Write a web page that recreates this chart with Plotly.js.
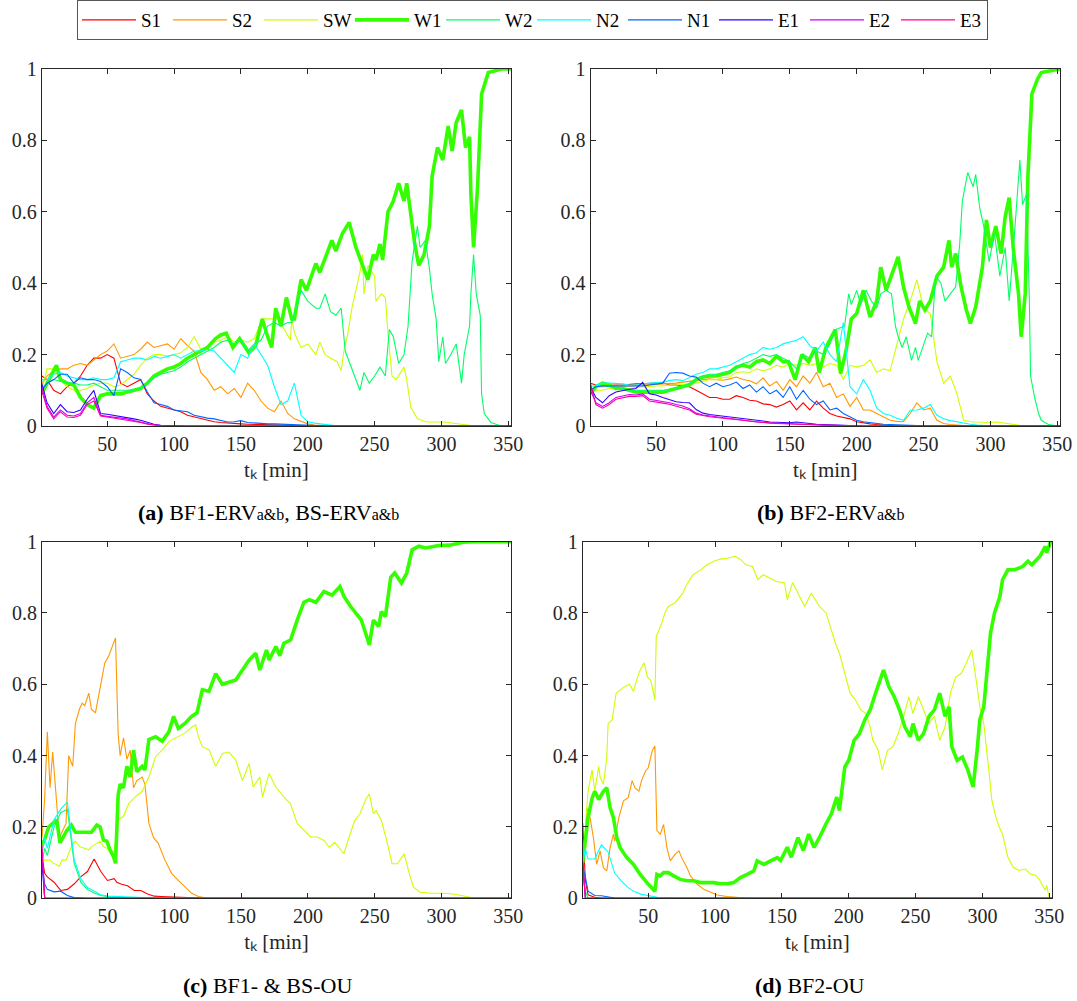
<!DOCTYPE html>
<html>
<head>
<meta charset="utf-8">
<script src="https://cdn.plot.ly/plotly-3.0.1.min.js"></script>
<style>body{margin:0;padding:0;background:#fff}#chart{width:1077px;height:1001px}</style>
</head>
<body>
<div id="chart"></div>
<script>
// ---- categories / tick labels ----
const seriesNames = ['S1','S2','SW','W1','W2','N2','N1','E1','E2','E3'];
const xTickVals = [50,100,150,200,250,300,350];
const yTickVals = [0,0.2,0.4,0.6,0.8,1];
const yTickText = ['0','0.2','0.4','0.6','0.8','1'];
const xTitle = 't\u2096 [min]';
const captions = ['<b>(a)</b> BF1-ERV<span style="font-size:16px">a&amp;b</span>, BS-ERV<span style="font-size:16px">a&amp;b</span>',
                  '<b>(b)</b> BF2-ERV<span style="font-size:16px">a&amp;b</span>',
                  '<b>(c)</b> BF1- &amp; BS-OU',
                  '<b>(d)</b> BF2-OU'];

// ---- common time grids [min] ----
const Ta = [1,5,10,15,20,25,30,35,40,45,50,55,60,65,70,75,80,85,90,95,100,105,110,115,120,125,130,135,140,145,150,155,160,165,170,175,180,185,190,195,200,205,210,215,220,225,230,235,240,245,250,255,260,265,270,275,280,285,290,295,300,305,310,315,320,325,330,335,340,345,350,352];
const Tc = [1,3,5,10,15,20,25,30,35,40,45,50,55,57,60,65,70,75,80,85,90,95,100,105,110,115,120,125,130,135,140,145,150,155,160,165,170,175,180,185,190,195,200,205,210,215,220,225,230,235,240,245,250,255,260,265,270,275,280,285,290,295,300,305,310,315,320,325,330,335,340,345,350,352];

// ---- panel (a) BF1-ERVa&b, BS-ERVa&b ----
const a_S1 = [.14,.13,.10,.09,.11,.12,.14,.17,.19,.19, .20,.19,.12,.11,.12,.13,.09,.07,.055,.05, .045,.04,.03,.025,.02,.015,.012,.01,.008,.007, .006,.005,.005,.004,.003,.003,.003,.002,.002,.002, .001,0,0,0,0,0,0,0,0,0, 0,0,0,0,0,0,0,0,0,0, 0,0,0,0,0,0,0,0,0,0, 0,0];
const a_S2 = [.12,.14,.155,.16,.16,.17,.175,.17,.185,.2, .21,.23,.19,.195,.2,.215,.235,.22,.225,.23, .215,.245,.225,.21,.15,.13,.10,.11,.09,.105, .08,.12,.10,.07,.05,.04,.07,.035,.02,.012, .006,.003,.002,.001,0,0,0,0,0,0, 0,0,0,0,0,0,0,0,0,0, 0,0,0,0,0,0,0,0,0,0, 0,0];
const a_SW_t = [1,5,10,15,20,25,30,35,40,45,50,55,60,65,70,75,80,85,90,95,100,105,110,115,120,125,130,135,140,145,150,155,160, 166,173,178,187,188,190,195,200,206,209,213,217,222,225,227,230,233,239,241,242,245,250,251,255,258,260,263,266,272,274,277,282,289,302,315,325,352];
const a_SW = [.10,.16,.16,.13,.11,.10,.10,.105,.115,.12, .12,.11,.115,.13,.145,.17,.19,.2,.2,.195, .2,.205,.22,.25,.215,.22,.235,.24,.25,.235, .24,.235,.245, .3,.3,.3,.24,.3, .26,.22,.23,.2,.235, .2,.19,.18,.155,.21, .26,.33,.43,.48,.37, .45,.42,.35,.37,.36, .26,.14,.13,.165,.13, .053,.02,.011,.011,.005, 0,0];
const a_W1_t = [1,5,10,12,15,20,25,30,35,40,45,50,55,60,65,70,75,80,85,90,95,100,105,110,115,120,125,131,135,139,144,149,156,161,166,170,173,176,180,184,188,190,195,199,206,209,218,221,226,231,236,240,245,249,251,254,256,260,264,268,272,274,278,280,283,287,291,293,297,301,305,308,311,315,318,321,322,324,327,330,335,345,352];
const a_W1 = [.09,.12,.16,.17,.13, .12,.115,.08,.06,.05, .085,.09,.09,.09,.095, .10,.105,.12,.14,.15, .16,.165,.175,.19,.2, .21,.22,.245,.255,.26, .22,.245,.205,.225,.3, .25,.22,.33,.28,.36, .3,.3,.41,.38,.455, .43,.52,.49,.54,.57, .5,.46,.41,.48,.465, .51,.465,.6,.63,.68, .63,.68,.56,.51,.45, .48,.56,.7,.78,.745, .84,.77,.85,.885,.78, .81,.65,.5,.67,.93, .99,1,1];
const a_W2_t = [1,5,10,15,20,25,30,35,40,45,50,55,60,65,70,75,80,85,90,95,100,105,110,115,120,125,130,135,140,145,150,155,160,165,170,175,180,185, 188,193,195,200,206,209,213,217,221,225,227,228,231,235,239,242,246,250,254,258,261,264,268,272,275,278,282,284,288,291,293,296,298,301,303,307,311,315,317,321,322,324,326,329,330,332,337,343,350,352];
const a_W2 = [.1,.12,.13,.125,.12,.12,.115,.115,.12,.11, .1,.1,.1,.1,.1,.105,.12,.135,.145,.15, .155,.165,.18,.19,.2,.21,.22,.235,.24,.23, .24,.21,.23,.24,.28,.29,.28,.29, .29,.35,.38,.35,.33, .33,.37,.32,.31,.33, .26,.21,.18,.14,.1, .15,.12,.14,.165,.14, .27,.25,.175,.2,.28, .46,.56,.5,.52,.44, .37,.3,.18,.25,.175, .2,.23,.12,.2,.28, .37,.48,.37,.31,.09, .035,.01,.002,0,0];
const a_N2 = [.13,.13,.145,.15,.14,.135,.13,.13,.135,.13, .13,.135,.18,.185,.19,.19,.185,.195,.19,.195, .2,.19,.2,.21,.21,.215,.21,.19,.17,.15, .2,.19,.23,.2,.17,.11,.06,.07,.12,.03, .012,.008,.005,.003,.001,0,0,0,0,0, 0,0,0,0,0,0,0,0,0,0, 0,0,0,0,0,0,0,0,0,0, 0,0];
const a_N1 = [.1,.12,.13,.145,.145,.12,.135,.13,.13,.125, .11,.085,.16,.15,.135,.13,.095,.065,.06,.055, .045,.042,.04,.03,.025,.022,.02,.015,.011,.012, .015,.01,.008,.007,.006,.006,.005,.004,.003,.002, .001,0,0,0,0,0,0,0,0,0, 0,0,0,0,0,0,0,0,0,0, 0,0,0,0,0,0,0,0,0,0, 0,0];
const a_E1 = [.12,.065,.035,.06,.04,.038,.045,.075,.1,.035, .033,.03,.028,.025,.02,.016,.01,.005,.002,.001, 0,0,0,0,0,0,0,0,0,0, 0,0,0,0,0,0,0,0,0,0, 0,0,0,0,0,0,0,0,0,0, 0,0,0,0,0,0,0,0,0,0, 0,0,0,0,0,0,0,0,0,0, 0,0];
const a_E2 = [.11,.055,.025,.045,.03,.028,.035,.065,.08,.03, .027,.025,.022,.02,.015,.012,.007,.003,.001,0, 0,0,0,0,0,0,0,0,0,0, 0,0,0,0,0,0,0,0,0,0, 0,0,0,0,0,0,0,0,0,0, 0,0,0,0,0,0,0,0,0,0, 0,0,0,0,0,0,0,0,0,0, 0,0];
const a_E3 = [.1,.05,.02,.04,.025,.024,.03,.06,.07,.028, .025,.022,.02,.018,.013,.01,.005,.002,.001,0, 0,0,0,0,0,0,0,0,0,0, 0,0,0,0,0,0,0,0,0,0, 0,0,0,0,0,0,0,0,0,0, 0,0,0,0,0,0,0,0,0,0, 0,0,0,0,0,0,0,0,0,0, 0,0];

// ---- panel (b) BF2-ERVa&b ----
const b_S1 = [.12,.115,.113,.115,.115,.115,.117,.118,.118,.12, .12,.122,.115,.115,.112,.11,.1,.09,.08,.08, .075,.075,.085,.08,.072,.07,.062,.06,.053,.06, .07,.045,.065,.045,.07,.05,.035,.028,.025,.02, .012,.008,.006,.004,.002,.001,0,0,0,0, 0,0,0,0,0,0,0,0,0,0, 0,0,0,0,0,0,0,0,0,0, 0,0];
const b_S2 = [.1,.11,.11,.11,.11,.112,.112,.113,.114,.115, .116,.118,.12,.12,.123,.125,.127,.13,.132,.13, .128,.132,.137,.13,.127,.118,.135,.112,.125,.1, .13,.11,.14,.12,.15,.11,.12,.08,.09,.055, .08,.045,.045,.035,.025,.016,.013,.012,.035,.065, .045,.05,.016,.007,.004,.002,.001,0,0,0, 0,0,0,0,0,0,0,0,0,0, 0,0];
const b_SW = [.1,.1,.1,.105,.105,.105,.105,.108,.11,.11, .112,.112,.115,.115,.117,.12,.12,.125,.13,.13, .135,.137,.15,.152,.15,.16,.155,.16,.17,.165, .175,.17,.175,.17,.175,.165,.175,.17,.13,.17, .165,.17,.185,.15,.16,.155,.23,.3,.35,.41, .33,.315,.18,.12,.14,.09,.016,.012,.011,.01, .01,.011,.008,.005,.002,0,0,0,0,0, 0,0];
const b_W1_t = [1,5,10,15,20,25,30,35,40,45,50,55,60,65,70,75,80,85,90,95,100,105,110,115,120,125,130,135,140,145, 149,154,159,164,169,172,177,184,188,192,196,200,205,210,215,218,222,226,231,235,239,244,247,251,255,260,265,269,271,274,278,282,285,289,294,297,300,304,308,311,314,317,321,323,326,328,331,335,338,345,350,352];
const b_W1 = [.09,.11,.12,.115,.105,.105,.1,.095,.095,.095, .095,.095,.1,.105,.11,.115,.13,.137,.14,.14, .145,.15,.165,.17,.165,.18,.185,.175,.195,.18, .18,.13,.2,.18,.22, .15,.22,.27,.147,.21, .3,.315,.38,.305,.35, .445,.38,.42,.474,.39, .334,.287,.35,.325,.35, .42,.445,.52,.445,.483, .39,.325,.287,.334,.445, .577,.5,.56,.483,.586, .64,.5,.37,.25,.37, .7,.93,.97,.99,.995, 1,1];
const b_W2_t = [1,5,10,15,20,25,30,35,40,45,50,55,60,65,70,75,80,85,90,95,100,105,110,115,120,125,130,135,140,145,150,155,160,165,170,175,180, 184,191,194,196,200,203,207,211,215,218,222,226,229,231,234,237,241,244,246,250,253,256,259,263,266,270,274,277,279,283,287,289,292,295,299,303,307,311,314,318,322,324,327,329,330,333,336,338,343,350,352];
const b_W2 = [.1,.11,.115,.11,.11,.105,.1,.1,.1,.1, .1,.1,.1,.105,.11,.12,.13,.14,.145,.145, .15,.155,.165,.175,.18,.19,.2,.195,.2,.19, .18,.16,.2,.19,.21,.2,.23, .27,.28,.37,.34,.38, .34,.38,.35,.33,.37, .38,.37,.28,.25,.22, .25,.184,.22,.184,.23, .26,.25,.42,.4,.35, .37,.39,.51,.63,.71, .67,.705,.61,.56,.46, .54,.42,.5,.35,.54, .745,.62,.65,.37,.14, .08,.035,.016,.005,0, 0];
const b_N2 = [.11,.115,.12,.12,.12,.118,.115,.115,.118,.12, .12,.123,.127,.13,.127,.135,.145,.15,.16,.16, .165,.17,.18,.19,.2,.205,.22,.215,.22,.23, .235,.24,.25,.225,.21,.235,.2,.18,.29,.11, .09,.13,.1,.05,.035,.03,.022,.016,.044,.045, .05,.06,.03,.02,.015,.011,.007,.005,.003,.001, 0,0,0,0,0,0,0,0,0,0, 0,0];
const b_N1 = [.1,.11,.112,.112,.112,.11,.11,.112,.112,.115, .117,.12,.148,.15,.148,.14,.137,.12,.11,.12, .11,.115,.123,.105,.115,.095,.11,.09,.1,.08, .11,.075,.1,.075,.06,.07,.045,.05,.035,.025, .016,.012,.009,.007,.005,.004,.003,.002,.001,0, 0,0,0,0,0,0,0,0,0,0, 0,0,0,0,0,0,0,0,0,0, 0,0];
const b_E1 = [.11,.08,.065,.085,.095,.1,.103,.105,.122,.09, .087,.08,.073,.068,.066,.065,.046,.036,.032,.03, .028,.025,.023,.02,.018,.016,.014,.011,.01,.008, .009,.011,.008,.007,.005,.004,.003,.003,.002,.002, .001,0,0,0,0,0,0,0,0,0, 0,0,0,0,0,0,0,0,0,0, 0,0,0,0,0,0,0,0,0,0, 0,0];
const b_E2 = [.1,.065,.055,.065,.08,.085,.088,.087,.09,.075, .072,.068,.065,.06,.056,.048,.036,.031,.028,.026, .024,.021,.019,.016,.013,.011,.01,.009,.008,.007, .006,.005,.005,.004,.004,.003,.002,.002,.001,0, 0,0,0,0,0,0,0,0,0,0, 0,0,0,0,0,0,0,0,0,0, 0,0,0,0,0,0,0,0,0,0, 0,0];
const b_E3 = [.12,.06,.05,.06,.075,.08,.083,.083,.085,.07, .068,.064,.061,.056,.052,.045,.033,.029,.026,.024, .022,.019,.017,.014,.012,.01,.009,.008,.007,.006, .005,.004,.004,.003,.003,.002,.002,.001,0,0, 0,0,0,0,0,0,0,0,0,0, 0,0,0,0,0,0,0,0,0,0, 0,0,0,0,0,0,0,0,0,0, 0,0];

// ---- panel (c) BF1- & BS-OU ----
const c_S1 = [.12,.07,.06,.045,.022,.025,.04,.06,.075,.11, .075,.05,.055,.045,.04,.035,.022,.022,.012,.006, .005,.004,.003,.002,.001,0,0,0,0,0, 0,0,0,0,0,0,0,0,0,0, 0,0,0,0,0,0,0,0,0,0, 0,0,0,0,0,0,0,0,0,0, 0,0,0,0,0,0,0,0,0,0, 0,0,0,0];
const c_S2_t = [1,3,5,7,9,12,14,16.5,19,21,24,26,29,31,33,36,38,41,43,46,48,51,53,56,58,59.5,62,64.5,67,69.5,72,76,78,81,84.5,88,93,98,103,108,113,118,125,352];
const c_S2 = [.17,.28,.467,.31,.41, .25,.17,.19,.21,.4, .37,.49,.53,.547,.54, .575,.53,.52,.56,.62, .66,.68,.7,.73,.46, .4,.45,.39,.415,.31, .33,.34,.32,.21,.17, .154,.107,.07,.05,.033, .014,.005,0,0];
const c_SW_t = [1,3,7,9,14,16,19,21,24,26,29,36,38,42,44.5,47,52,55,58,62,66,71,76,81,86,91,96,101,108,113,116,118,121,126,131,136,141,146,151,156,159,164,166,171,176,182,187,192,197,202,207,212,216,220,225,227,230,235,239,243,246,249,251,255,259,263,267,272,276,279,284,293,301,309,316,324,330,352];
const c_SW = [.1,.107,.107,.1,.09, .107,.107,.126,.154,.16, .145,.136,.145,.154,.16, .145,.136,.13,.22,.23, .266,.285,.3,.34,.397, .416,.44,.45,.463,.48, .486,.453,.425,.416,.37, .406,.41,.387,.33,.378, .312,.34,.284,.35,.312, .284,.265,.21,.19,.172, .172,.162,.143,.157,.134, .125,.162,.218,.237,.275, .293,.237,.246,.218,.162, .097,.097,.125,.068,.031, .017,.014,.014,.012,.007, .001,0,0];
const c_W1_t = [1,3,6,9,12,14.5,17,19.5,23,26,31,38,42,44.5,47,49.5,52,54.5,56,58,59.5,62,64.5,67,69.5,72,76,78,81,86,91,96,99.5,103,108,113,117,121,126,131,136,141,146,151,156,161,164,169,171,176,179,182,187,192,197,201,206,212,218,224,227,232,236,240,244,246,249,253,255,258,262,265,270,274,278,283,288,298,306,316,325,352];
const c_W1 = [.15,.165,.2,.21,.22, .155,.173,.19,.205,.185, .185,.185,.205,.2,.163, .16,.135,.117,.098,.29, .32,.31,.37,.34,.415, .355,.37,.36,.445,.453, .44,.467,.51,.476,.49, .51,.52,.585,.58,.63, .6,.607,.612,.64,.668, .687,.64,.696,.668,.706, .68,.715,.724,.78,.83, .837,.83,.86,.85,.874, .846,.818,.8,.78,.734, .71,.78,.762,.804,.79, .9,.912,.884,.912,.977, .987,.982,.989,.99,.998, 1,1];
const c_W2 = [.1,.14,.12,.2,.24,.25,.1,.045,.025,.015, .008,.004,.002,.002,.001,0,0,0,0,0, 0,0,0,0,0,0,0,0,0,0, 0,0,0,0,0,0,0,0,0,0, 0,0,0,0,0,0,0,0,0,0, 0,0,0,0,0,0,0,0,0,0, 0,0,0,0,0,0,0,0,0,0, 0,0,0,0];
const c_N2 = [.12,.17,.14,.22,.25,.27,.11,.055,.03,.02, .01,.006,.005,.005,.005,.005,.004,.002,.001,0, 0,0,0,0,0,0,0,0,0,0, 0,0,0,0,0,0,0,0,0,0, 0,0,0,0,0,0,0,0,0,0, 0,0,0,0,0,0,0,0,0,0, 0,0,0,0,0,0,0,0,0,0, 0,0,0,0];
const c_N1 = [.1,.04,.025,.018,.02,.008,.002,0,0,0, 0,0,0,0,0,0,0,0,0,0, 0,0,0,0,0,0,0,0,0,0, 0,0,0,0,0,0,0,0,0,0, 0,0,0,0,0,0,0,0,0,0, 0,0,0,0,0,0,0,0,0,0, 0,0,0,0,0,0,0,0,0,0, 0,0,0,0];
const c_E1 = [.1,0,0,0,0,0,0,0,0,0, 0,0,0,0,0,0,0,0,0,0, 0,0,0,0,0,0,0,0,0,0, 0,0,0,0,0,0,0,0,0,0, 0,0,0,0,0,0,0,0,0,0, 0,0,0,0,0,0,0,0,0,0, 0,0,0,0,0,0,0,0,0,0, 0,0,0,0];
const c_E2 = [.13,0,0,0,0,0,0,0,0,0, 0,0,0,0,0,0,0,0,0,0, 0,0,0,0,0,0,0,0,0,0, 0,0,0,0,0,0,0,0,0,0, 0,0,0,0,0,0,0,0,0,0, 0,0,0,0,0,0,0,0,0,0, 0,0,0,0,0,0,0,0,0,0, 0,0,0,0];
const c_E3 = [.15,0,0,0,0,0,0,0,0,0, 0,0,0,0,0,0,0,0,0,0, 0,0,0,0,0,0,0,0,0,0, 0,0,0,0,0,0,0,0,0,0, 0,0,0,0,0,0,0,0,0,0, 0,0,0,0,0,0,0,0,0,0, 0,0,0,0,0,0,0,0,0,0, 0,0,0,0];

// ---- panel (d) BF2-OU ----
const d_S1 = [.21,.05,.01,.003,0,0,0,0,0,0, 0,0,0,0,0,0,0,0,0,0, 0,0,0,0,0,0,0,0,0,0, 0,0,0,0,0,0,0,0,0,0, 0,0,0,0,0,0,0,0,0,0, 0,0,0,0,0,0,0,0,0,0, 0,0,0,0,0,0,0,0,0,0, 0,0,0,0];
const d_S2_t = [1,3,4,6.5,9,11.5,14,16.5,19,21.5,24,25,28,31.5,35,38,40,43,45,48,50,53,55,56.5,59,61.5,64,66.5,70,73,75,79,81.5,86.5,91.5,96.5,101.5,109,116.5,125,352];
const d_S2 = [.1,.133,.254,.226,.17, .095,.133,.086,.077,.142, .18,.16,.226,.273,.282, .33,.31,.3,.33,.357, .366,.413,.427,.19,.18, .207,.142,.105,.123,.133, .114,.086,.063,.04,.025, .016,.009,.005,.002,0, 0];
const d_SW_t = [1,3,5,8,10,13,14,16.5,19,20,23,26,31,36,39,42,44,47,49.5,52,55,56,60,62.5,65,70,76,78,83.5,89,94,99,104,110,115,119,123,128,132,136,141,146,152,154,158,162,167,172,178,183,186,190,193,197,201,205,209,213,216,218,222,225,229,233,237,241,245,248,252,256,260,264,268,272,276,280,284,288,292,296,298,301,303,305,307,310,312.5,315,319,323,327,332,336,340,343,347,348,350,352];
const d_SW = [.1,.21,.3,.36,.3, .37,.34,.32,.394,.49, .5,.575,.59,.6,.58, .62,.64,.66,.62,.61, .556,.734,.77,.8,.818, .828,.856,.874,.907,.92, .935,.945,.951,.954,.959, .95,.935,.93,.893,.907, .898,.888,.884,.837,.885, .856,.818,.856,.818,.8, .762,.715,.687,.63,.575, .556,.528,.518,.48,.443, .415,.36,.415,.425,.462, .51,.565,.518,.565,.528, .49,.51,.443,.48,.575, .62,.63,.66,.696,.593, .537,.49,.425,.35,.275, .228,.2,.18,.115,.087, .078,.082,.068,.064,.05, .022,.036,0,0];
const d_W1_t = [1,3,5,8,10,13,16.5,19,21.5,24,26.5,29,34,39,44,49,53.5,55,56.5,59,61.5,65,69,74,79,84,89,94,99,104,109,114,119,124,129,131.5,136.5,141.5,146.5,149,154,157,162,166,170,174,178,183,187,191,193,197,200,204,208,212,216,220,224,226,230,234,238,242,246,248,252,256,260,264,268,272,275,277,281,285,289,293,296,298,301,303,306,309,313,315,319,324,330,334,337,343,347,348,351,352];
const d_W1 = [.1,.17,.226,.28,.3, .277,.3,.31,.254,.226, .17,.142,.114,.095,.067, .044,.025,.02,.067,.063, .072,.072,.063,.053,.049, .049,.044,.044,.044,.041, .041,.044,.058,.067,.077, .105,.095,.105,.114,.106, .143,.115,.17,.134,.18, .143,.17,.209,.237,.284, .246,.368,.387,.443,.462, .5,.528,.575,.62,.64, .593,.565,.528,.48,.453, .49,.443,.462,.51,.528, .575,.51,.537,.425,.387, .396,.36,.312,.415,.5, .537,.612,.743,.8,.846, .893,.921,.921,.93,.945, .935,.959,.987,.968,1, 1];
const d_W2 = [.1,.02,0,0,0,0,0,0,0,0, 0,0,0,0,0,0,0,0,0,0, 0,0,0,0,0,0,0,0,0,0, 0,0,0,0,0,0,0,0,0,0, 0,0,0,0,0,0,0,0,0,0, 0,0,0,0,0,0,0,0,0,0, 0,0,0,0,0,0,0,0,0,0, 0,0,0,0];
const d_N2 = [.1,.14,.11,.11,.15,.13,.07,.048,.03,.018, .011,.007,.004,.003,.002,.001,0,0,0,0, 0,0,0,0,0,0,0,0,0,0, 0,0,0,0,0,0,0,0,0,0, 0,0,0,0,0,0,0,0,0,0, 0,0,0,0,0,0,0,0,0,0, 0,0,0,0,0,0,0,0,0,0, 0,0,0,0];
const d_N1 = [.09,.06,.02,.008,.007,.003,.001,0,0,0, 0,0,0,0,0,0,0,0,0,0, 0,0,0,0,0,0,0,0,0,0, 0,0,0,0,0,0,0,0,0,0, 0,0,0,0,0,0,0,0,0,0, 0,0,0,0,0,0,0,0,0,0, 0,0,0,0,0,0,0,0,0,0, 0,0,0,0];
const d_E1 = [.1,0,0,0,0,0,0,0,0,0, 0,0,0,0,0,0,0,0,0,0, 0,0,0,0,0,0,0,0,0,0, 0,0,0,0,0,0,0,0,0,0, 0,0,0,0,0,0,0,0,0,0, 0,0,0,0,0,0,0,0,0,0, 0,0,0,0,0,0,0,0,0,0, 0,0,0,0];
const d_E2 = [.1,0,0,0,0,0,0,0,0,0, 0,0,0,0,0,0,0,0,0,0, 0,0,0,0,0,0,0,0,0,0, 0,0,0,0,0,0,0,0,0,0, 0,0,0,0,0,0,0,0,0,0, 0,0,0,0,0,0,0,0,0,0, 0,0,0,0,0,0,0,0,0,0, 0,0,0,0];
const d_E3 = [.1,0,0,0,0,0,0,0,0,0, 0,0,0,0,0,0,0,0,0,0, 0,0,0,0,0,0,0,0,0,0, 0,0,0,0,0,0,0,0,0,0, 0,0,0,0,0,0,0,0,0,0, 0,0,0,0,0,0,0,0,0,0, 0,0,0,0,0,0,0,0,0,0, 0,0,0,0];

// ---- styling ----
const colors = ['#ff0000','#ff9900','#ccff00','#33ff00','#00ff66','#00ffff','#0066ff','#3300ff','#cc00ff','#ff0099'];
const widths = [1.1,1.1,1.1,3.6,1.1,1.1,1.1,1.1,1.1,1.1];
const FONT = "'Liberation Serif', 'Times New Roman', Times, serif";
const INK = '#262626';

// series with their own time base
const S = (t, v) => ({t: t, v: v});
const panels = [
  {T: Ta, data: [a_S1,a_S2,S(a_SW_t,a_SW),S(a_W1_t,a_W1),S(a_W2_t,a_W2),a_N2,a_N1,a_E1,a_E2,a_E3], xa:'x',  ya:'y',  xd:[41.7,511],  yd:[69,426]},
  {T: Ta, data: [b_S1,b_S2,b_SW,S(b_W1_t,b_W1),S(b_W2_t,b_W2),b_N2,b_N1,b_E1,b_E2,b_E3], xa:'x2', ya:'y2', xd:[590.5,1060], yd:[69,426]},
  {T: Tc, data: [c_S1,S(c_S2_t,c_S2),S(c_SW_t,c_SW),S(c_W1_t,c_W1),c_W2,c_N2,c_N1,c_E1,c_E2,c_E3], xa:'x3', ya:'y3', xd:[42,511],    yd:[541.6,898.3]},
  {T: Tc, data: [d_S1,S(d_S2_t,d_S2),S(d_SW_t,d_SW),S(d_W1_t,d_W1),d_W2,d_N2,d_N1,d_E1,d_E2,d_E3], xa:'x4', ya:'y4', xd:[582.7,1052], yd:[541.6,898.3]}
];
const W = 1077, H = 1001;
const traces = [];
panels.forEach((p, pi) => {
  p.data.forEach((entry, si) => {
    const isArr = Array.isArray(entry);
    traces.push({
      type: 'scatter', mode: 'lines', x: isArr ? p.T : entry.t, y: isArr ? entry : entry.v,
      name: seriesNames[si], legendgroup: seriesNames[si], showlegend: pi === 0,
      xaxis: p.xa, yaxis: p.ya,
      line: {color: colors[si], width: widths[si]}, hoverinfo: 'x+y+name'
    });
  });
});

const layout = {
  width: W, height: H, margin: {l:0, r:0, t:0, b:0},
  paper_bgcolor: '#fff', plot_bgcolor: '#fff',
  font: {family: FONT, size: 20, color: INK},
  showlegend: true,
  legend: {orientation: 'h', x: 77/W, xanchor: 'left', y: 1, yanchor: 'top',
           bordercolor: '#555', borderwidth: 1, bgcolor: '#fff',
           itemwidth: 54, entrywidth: 22, entrywidthmode: 'pixels',
           font: {family: FONT, size: 19, color: '#000'}, tracegroupgap: 0},
  annotations: []
};
const captionPos = [[268,512],[830,512],[267,985],[810,985]];
panels.forEach((p, pi) => {
  const sx = pi === 0 ? '' : String(pi + 1);
  layout['xaxis' + sx] = {
    domain: [p.xd[0]/W, p.xd[1]/W], anchor: 'y' + sx, range: [1, 352],
    tickvals: xTickVals, ticks: 'inside', ticklen: 5, tickcolor: INK,
    showline: true, linecolor: INK, linewidth: 1, mirror: 'ticks',
    showgrid: false, zeroline: false, tickfont: {family: FONT, size: 20, color: INK},
    title: {text: xTitle, font: {family: FONT, size: 21, color: INK}, standoff: 8}
  };
  layout['yaxis' + sx] = {
    domain: [1 - p.yd[1]/H, 1 - p.yd[0]/H], anchor: 'x' + sx, range: [0, 1],
    tickvals: yTickVals, ticktext: yTickText,
    ticks: 'inside', ticklen: 5, tickcolor: INK,
    showline: true, linecolor: INK, linewidth: 1, mirror: 'ticks',
    showgrid: false, zeroline: false, tickfont: {family: FONT, size: 20, color: INK}
  };
  layout.annotations.push({
    xref: 'paper', yref: 'paper', x: captionPos[pi][0]/W, y: 1 - captionPos[pi][1]/H,
    xanchor: 'center', yanchor: 'middle', showarrow: false, text: captions[pi],
    font: {family: FONT, size: 22, color: '#000'}
  });
});

Plotly.newPlot('chart', traces, layout, {displayModeBar: false});
</script>
</body>
</html>
